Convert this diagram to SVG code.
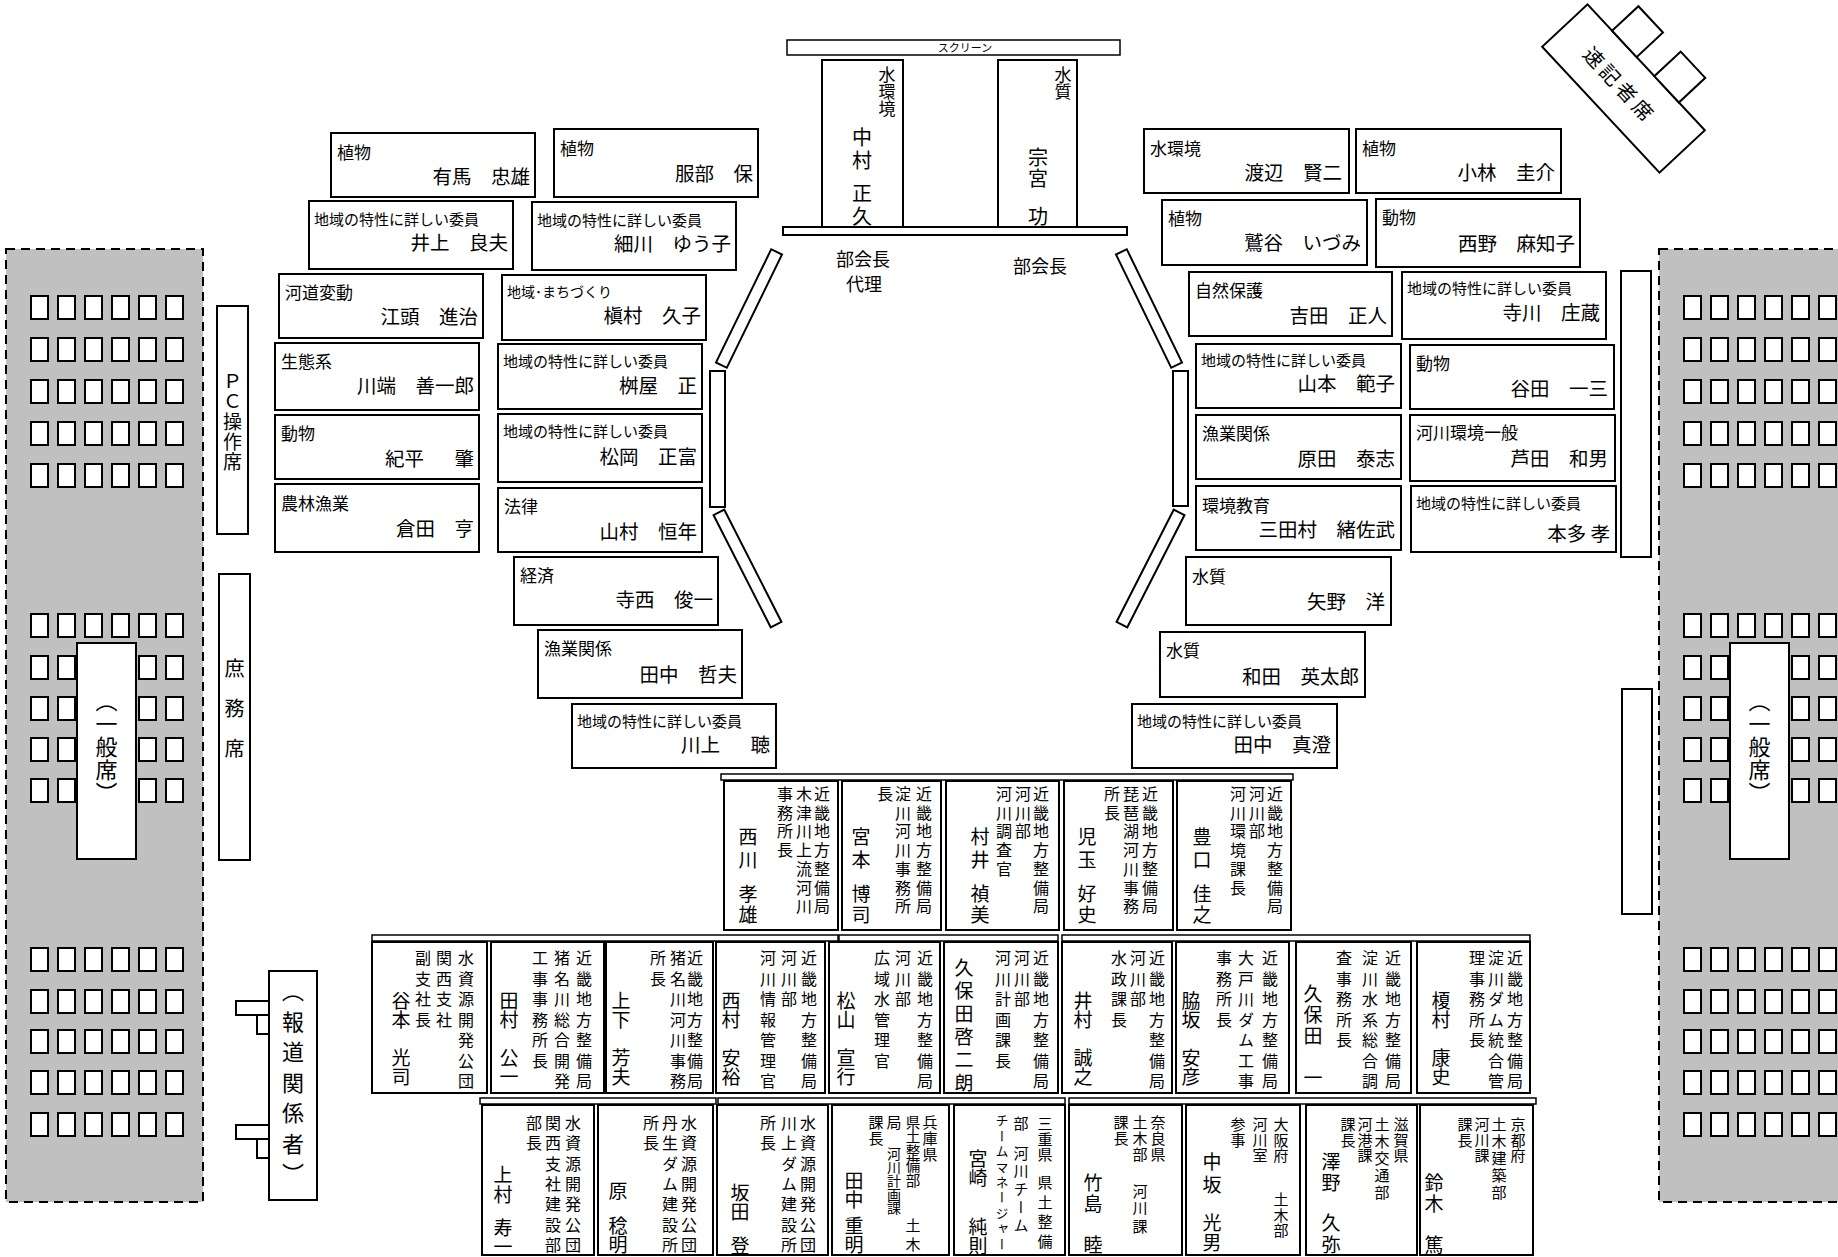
<svg xmlns="http://www.w3.org/2000/svg" width="1838" height="1257" viewBox="0 0 1838 1257">
<style>
text{font-family:"Noto Sans CJK JP","Noto Sans CJK SC",sans-serif;fill:#000}
.b{fill:#fff;stroke:#000;stroke-width:2}
.bar{fill:#fff;stroke:#000;stroke-width:1.5}
.s{fill:#fff;stroke:#000;stroke-width:2}
.g{fill:#c0c0c0;stroke:#000;stroke-width:2;stroke-dasharray:9 6}
.l{font-size:17px}
.ls{font-size:15px}
.n{font-size:19.5px;text-anchor:end}
.v{writing-mode:vertical-rl;font-size:16px}
.v15{writing-mode:vertical-rl;font-size:15px}
.vn{writing-mode:vertical-rl;font-size:19px}
.vx{writing-mode:vertical-rl}
</style>
<defs>
<g id="sr"><rect class="s" x="0" y="0" width="17" height="23"/><rect class="s" x="27" y="0" width="17" height="23"/><rect class="s" x="54" y="0" width="17" height="23"/><rect class="s" x="81" y="0" width="17" height="23"/><rect class="s" x="108" y="0" width="17" height="23"/><rect class="s" x="135" y="0" width="17" height="23"/></g>
</defs>
<rect width="1838" height="1257" fill="#fff"/>

<g id="public-left">
<rect class="g" x="6" y="249" width="197" height="953"/>
<use href="#sr" x="31" y="296"/><use href="#sr" x="31" y="338"/><use href="#sr" x="31" y="380"/><use href="#sr" x="31" y="422"/><use href="#sr" x="31" y="464"/>
<use href="#sr" x="31" y="614"/><use href="#sr" x="31" y="656"/><use href="#sr" x="31" y="697"/><use href="#sr" x="31" y="738"/><use href="#sr" x="31" y="779"/>
<use href="#sr" x="31" y="948"/><use href="#sr" x="31" y="990"/><use href="#sr" x="31" y="1030"/><use href="#sr" x="31" y="1071"/><use href="#sr" x="31" y="1113"/>
<rect class="b" x="77" y="643" width="59" height="216"/>
<text class="vx" x="106.5" y="690" font-size="22" letter-spacing="1">（一般席）</text>
</g>
<g id="public-right">
<rect class="g" x="1659" y="249" width="250" height="953"/>
<use href="#sr" x="1684" y="296"/><use href="#sr" x="1684" y="338"/><use href="#sr" x="1684" y="380"/><use href="#sr" x="1684" y="422"/><use href="#sr" x="1684" y="464"/>
<use href="#sr" x="1684" y="614"/><use href="#sr" x="1684" y="656"/><use href="#sr" x="1684" y="697"/><use href="#sr" x="1684" y="738"/><use href="#sr" x="1684" y="779"/>
<use href="#sr" x="1684" y="948"/><use href="#sr" x="1684" y="990"/><use href="#sr" x="1684" y="1030"/><use href="#sr" x="1684" y="1071"/><use href="#sr" x="1684" y="1113"/>
<rect class="b" x="1730" y="643" width="59" height="216"/>
<text class="vx" x="1759.5" y="690" font-size="22" letter-spacing="1">（一般席）</text>
</g>

<g id="pc"><rect class="b" x="217" y="306" width="31" height="228"/><text class="vx" x="232.5" y="372" font-size="19" letter-spacing="1">ＰＣ操作席</text></g>
<g id="shomu"><rect class="b" x="219" y="574" width="31" height="286"/><text class="vx" x="234.5" y="658" font-size="20" letter-spacing="20">庶務席</text></g>
<g id="press">
<rect class="b" x="236" y="1001" width="33" height="14"/><rect class="b" x="257" y="1015" width="12" height="19"/>
<rect class="b" x="236" y="1125" width="33" height="14"/><rect class="b" x="257" y="1139" width="12" height="19"/>
<rect class="b" x="269" y="971" width="48" height="229"/>
<text class="vx" x="293" y="980" font-size="22" letter-spacing="8.5">（報道関係者）</text>
</g>
<g id="right-bar1"><rect class="b" x="1621" y="271" width="30" height="286"/></g>
<g id="right-bar2"><rect class="b" x="1622" y="689" width="30" height="225"/></g>
<g id="sokki" transform="translate(1623.5,88.5) rotate(47)">
<rect class="b" x="-86" y="-31" width="172" height="62"/>
<rect class="b" x="-50" y="-67" width="36" height="36"/>
<rect class="b" x="12" y="-67" width="36" height="36"/>
<text x="-5" y="8" font-size="20" letter-spacing="4" text-anchor="middle">速記者席</text>
</g>

<g id="screen"><rect class="bar" x="787" y="40" width="333" height="15"/><text x="965" y="52" font-size="11" text-anchor="middle">スクリーン</text></g>
<g id="chair-desk"><rect class="b" x="783" y="227" width="344" height="8"/></g>
<g id="nakamura"><rect class="b" x="822" y="60" width="81" height="167"/>
<text class="vx" x="887" y="66" font-size="17">水環境</text>
<text class="vx" x="862" y="127" font-size="20" letter-spacing="3.3">中村</text>
<text class="vx" x="862" y="183" font-size="20" letter-spacing="3.7">正久</text>
<text x="863" y="266" font-size="18" text-anchor="middle">部会長</text>
<text x="864" y="291" font-size="18" text-anchor="middle">代理</text></g>
<g id="somiya"><rect class="b" x="998" y="60" width="79" height="167"/>
<text class="vx" x="1063" y="66" font-size="17">水質</text>
<text class="vx" x="1038" y="147" font-size="20" letter-spacing="1.3">宗宮</text>
<text class="vx" x="1038" y="206" font-size="20">功</text>
<text x="1040" y="273" font-size="18" text-anchor="middle">部会長</text></g>

<g id="desks">
<rect class="b" x="-6" y="-63" width="12" height="126" transform="translate(749,308.5) rotate(26)"/>
<rect class="b" x="-6" y="-63" width="12" height="126" transform="translate(747.5,568.5) rotate(-27)"/>
<rect class="b" x="-6" y="-63" width="12" height="126" transform="translate(1149,308.5) rotate(-26)"/>
<rect class="b" x="-6" y="-63" width="12" height="126" transform="translate(1150.5,568.5) rotate(27)"/>
<rect class="b" x="710" y="371" width="15" height="136"/>
<rect class="b" x="1173" y="371" width="15" height="135"/>
</g>

<g id="c01"><rect class="b" x="331" y="133" width="204" height="64"/><text class="l" x="337" y="159">植物</text><text class="n" x="530" y="184">有馬　忠雄</text></g>
<g id="c02"><rect class="b" x="554" y="129" width="204" height="68"/><text class="l" x="560" y="155">植物</text><text class="n" x="753" y="181">服部　保</text></g>
<g id="c03"><rect class="b" x="309" y="201" width="204" height="68"/><text class="ls" x="314" y="225">地域の特性に詳しい委員</text><text class="n" x="508" y="250">井上　良夫</text></g>
<g id="c04"><rect class="b" x="532" y="202" width="204" height="68"/><text class="ls" x="537" y="226">地域の特性に詳しい委員</text><text class="n" x="731" y="251">細川　ゆう子</text></g>
<g id="c05"><rect class="b" x="279" y="274" width="204" height="64"/><text class="l" x="285" y="299">河道変動</text><text class="n" x="478" y="324">江頭　進治</text></g>
<g id="c06"><rect class="b" x="502" y="275" width="204" height="65"/><text x="507" y="297" font-size="14">地域･まちづくり</text><text class="n" x="701" y="323">槇村　久子</text></g>
<g id="c07"><rect class="b" x="275" y="343" width="204" height="67"/><text class="l" x="281" y="368">生態系</text><text class="n" x="474" y="393">川端　善一郎</text></g>
<g id="c08"><rect class="b" x="498" y="344" width="204" height="65"/><text class="ls" x="503" y="367">地域の特性に詳しい委員</text><text class="n" x="697" y="393">桝屋　正</text></g>
<g id="c09"><rect class="b" x="275" y="415" width="204" height="64"/><text class="l" x="281" y="440">動物</text><text class="n" x="424" y="466">紀平</text><text class="n" x="474" y="466">肇</text></g>
<g id="c10"><rect class="b" x="498" y="414" width="204" height="68"/><text class="ls" x="503" y="437">地域の特性に詳しい委員</text><text class="n" x="697" y="464">松岡　正富</text></g>
<g id="c11"><rect class="b" x="275" y="484" width="204" height="68"/><text class="l" x="281" y="510">農林漁業</text><text class="n" x="474" y="536">倉田　亨</text></g>
<g id="c12"><rect class="b" x="498" y="488" width="204" height="64"/><text class="l" x="504" y="513">法律</text><text class="n" x="697" y="539">山村　恒年</text></g>
<g id="c13"><rect class="b" x="514" y="557" width="204" height="68"/><text class="l" x="520" y="582">経済</text><text class="n" x="713" y="607">寺西　俊一</text></g>
<g id="c14"><rect class="b" x="538" y="630" width="204" height="68"/><text class="l" x="544" y="655">漁業関係</text><text class="n" x="737" y="682">田中　哲夫</text></g>
<g id="c15"><rect class="b" x="572" y="704" width="204" height="64"/><text class="ls" x="577" y="727">地域の特性に詳しい委員</text><text class="n" x="720" y="752">川上</text><text class="n" x="770" y="752">聴</text></g>

<g id="c16"><rect class="b" x="1144" y="129" width="205" height="64"/><text class="l" x="1150" y="155">水環境</text><text class="n" x="1342" y="180">渡辺　賢二</text></g>
<g id="c17"><rect class="b" x="1356" y="129" width="205" height="64"/><text class="l" x="1362" y="155">植物</text><text class="n" x="1555" y="180">小林　圭介</text></g>
<g id="c18"><rect class="b" x="1162" y="200" width="205" height="65"/><text class="l" x="1168" y="225">植物</text><text class="n" x="1361" y="250">鷲谷　いづみ</text></g>
<g id="c19"><rect class="b" x="1376" y="199" width="204" height="68"/><text class="l" x="1382" y="224">動物</text><text class="n" x="1575" y="251">西野　麻知子</text></g>
<g id="c20"><rect class="b" x="1189" y="272" width="203" height="64"/><text class="l" x="1195" y="297">自然保護</text><text class="n" x="1387" y="323">吉田　正人</text></g>
<g id="c21"><rect class="b" x="1402" y="272" width="204" height="67"/><text class="ls" x="1407" y="294">地域の特性に詳しい委員</text><text class="n" x="1600" y="320">寺川　庄蔵</text></g>
<g id="c22"><rect class="b" x="1196" y="344" width="205" height="64"/><text class="ls" x="1201" y="366">地域の特性に詳しい委員</text><text class="n" x="1395" y="391">山本　範子</text></g>
<g id="c23"><rect class="b" x="1410" y="345" width="204" height="64"/><text class="l" x="1416" y="370">動物</text><text class="n" x="1608" y="396">谷田　一三</text></g>
<g id="c24"><rect class="b" x="1196" y="415" width="205" height="64"/><text class="l" x="1202" y="440">漁業関係</text><text class="n" x="1395" y="466">原田　泰志</text></g>
<g id="c25"><rect class="b" x="1410" y="415" width="205" height="66"/><text class="l" x="1416" y="439">河川環境一般</text><text class="n" x="1608" y="466">芦田　和男</text></g>
<g id="c26"><rect class="b" x="1196" y="486" width="205" height="64"/><text class="l" x="1202" y="512">環境教育</text><text class="n" x="1395" y="537">三田村　緒佐武</text></g>
<g id="c27"><rect class="b" x="1411" y="486" width="205" height="66"/><text class="ls" x="1416" y="509">地域の特性に詳しい委員</text><text class="n" x="1610" y="541">本多 孝</text></g>
<g id="c28"><rect class="b" x="1186" y="557" width="205" height="68"/><text class="l" x="1192" y="583">水質</text><text class="n" x="1385" y="609">矢野　洋</text></g>
<g id="c29"><rect class="b" x="1160" y="632" width="205" height="65"/><text class="l" x="1166" y="657">水質</text><text class="n" x="1359" y="684">和田　英太郎</text></g>
<g id="c30"><rect class="b" x="1132" y="704" width="205" height="64"/><text class="ls" x="1137" y="727">地域の特性に詳しい委員</text><text class="n" x="1331" y="752">田中　真澄</text></g>

<g id="row-bars">
<rect class="bar" x="721" y="774" width="572" height="6"/>
<rect class="bar" x="372" y="935" width="466" height="6"/>
<rect class="bar" x="839" y="935" width="219" height="6"/>
<rect class="bar" x="1062" y="935" width="468" height="6"/>
<rect class="bar" x="480" y="1098" width="236" height="6"/>
<rect class="bar" x="718" y="1098" width="347" height="6"/>
<rect class="bar" x="1069" y="1098" width="467" height="6"/>
</g>

<g id="o1-1"><rect class="b" x="724" y="781" width="114" height="149"/>
<text class="v" x="822" y="786" letter-spacing="2.7">近畿地方整備局</text><text class="v" x="804" y="786" letter-spacing="2.7">木津川上流河川</text><text class="v" x="785" y="786" letter-spacing="2.7">事務所長</text>
<text class="vn" x="748" y="827" letter-spacing="4">西川</text><text class="vn" x="748" y="884" letter-spacing="2">孝雄</text></g>
<g id="o1-2"><rect class="b" x="842" y="781" width="99" height="149"/>
<text class="v" x="924" y="786" letter-spacing="2.7">近畿地方整備局</text><text class="v" x="903" y="786" letter-spacing="2.7">淀川河川事務所</text><text class="v" x="885" y="786" letter-spacing="2.7">長</text>
<text class="vn" x="861" y="827" letter-spacing="4">宮本</text><text class="vn" x="861" y="884" letter-spacing="2">博司</text></g>
<g id="o1-3"><rect class="b" x="946" y="781" width="113" height="149"/>
<text class="v" x="1041" y="786" letter-spacing="2.7">近畿地方整備局</text><text class="v" x="1023" y="786" letter-spacing="2.7">河川部</text><text class="v" x="1004" y="786" letter-spacing="2.7">河川調査官</text>
<text class="vn" x="980" y="827" letter-spacing="4">村井</text><text class="vn" x="980" y="884" letter-spacing="2">禎美</text></g>
<g id="o1-4"><rect class="b" x="1064" y="781" width="109" height="149"/>
<text class="v" x="1150" y="786" letter-spacing="2.7">近畿地方整備局</text><text class="v" x="1131" y="786" letter-spacing="2.7">琵琶湖河川事務</text><text class="v" x="1112" y="786" letter-spacing="2.7">所長</text>
<text class="vn" x="1087" y="827" letter-spacing="4">児玉</text><text class="vn" x="1087" y="884" letter-spacing="2">好史</text></g>
<g id="o1-5"><rect class="b" x="1177" y="781" width="114" height="149"/>
<text class="v" x="1275" y="786" letter-spacing="2.7">近畿地方整備局</text><text class="v" x="1257" y="786" letter-spacing="2.7">河川部</text><text class="v" x="1238" y="786" letter-spacing="2.7">河川環境課長</text>
<text class="vn" x="1202" y="827" letter-spacing="4">豊口</text><text class="vn" x="1202" y="884" letter-spacing="2">佳之</text></g>

<g id="o2-1"><rect class="b" x="372" y="942" width="115" height="151"/>
<text class="v" x="466" y="950" letter-spacing="4.5">水資源開発公団</text><text class="v" x="444" y="950" letter-spacing="4.5">関西支社</text><text class="v" x="423" y="950" letter-spacing="4.5">副支社長</text>
<text class="vn" x="401" y="991" letter-spacing="0.5">谷本</text><text class="vn" x="401" y="1048" letter-spacing="0.5">光司</text></g>
<g id="o2-2"><rect class="b" x="491" y="942" width="113" height="151"/>
<text class="v" x="584" y="950" letter-spacing="4.5">近畿地方整備局</text><text class="v" x="562" y="950" letter-spacing="4.5">猪名川総合開発</text><text class="v" x="540" y="950" letter-spacing="4.5">工事事務所長</text>
<text class="vn" x="509" y="991" letter-spacing="0.5">田村</text><text class="vn" x="509" y="1048" letter-spacing="0.5">公一</text></g>
<g id="o2-3"><rect class="b" x="606" y="942" width="107" height="151"/>
<text class="v" x="695" y="950" letter-spacing="4.5">近畿地方整備局</text><text class="v" x="678" y="950" letter-spacing="4.5">猪名川河川事務</text><text class="v" x="658" y="950" letter-spacing="4.5">所長</text>
<text class="vn" x="621" y="991" letter-spacing="0.5">上下</text><text class="vn" x="621" y="1048" letter-spacing="0.5">芳夫</text></g>
<g id="o2-4"><rect class="b" x="716" y="942" width="109" height="151"/>
<text class="v" x="809" y="950" letter-spacing="4.5">近畿地方整備局</text><text class="v" x="789" y="950" letter-spacing="4.5">河川部</text><text class="v" x="768" y="950" letter-spacing="4.5">河川情報管理官</text>
<text class="vn" x="731" y="991" letter-spacing="0.5">西村</text><text class="vn" x="731" y="1048" letter-spacing="0.5">安裕</text></g>
<g id="o2-5"><rect class="b" x="829" y="942" width="111" height="151"/>
<text class="v" x="925" y="950" letter-spacing="4.5">近畿地方整備局</text><text class="v" x="903" y="950" letter-spacing="4.5">河川部</text><text class="v" x="882" y="950" letter-spacing="4.5">広域水管理官</text>
<text class="vn" x="846" y="991" letter-spacing="0.5">松山</text><text class="vn" x="846" y="1048" letter-spacing="0.5">宣行</text></g>
<g id="o2-6"><rect class="b" x="944" y="942" width="114" height="151"/>
<text class="v" x="1041" y="950" letter-spacing="4.5">近畿地方整備局</text><text class="v" x="1022" y="950" letter-spacing="4.5">河川部</text><text class="v" x="1003" y="950" letter-spacing="4.5">河川計画課長</text>
<text class="vn" x="964" y="958" letter-spacing="4">久保田啓二朗</text></g>
<g id="o2-7"><rect class="b" x="1062" y="942" width="110" height="151"/>
<text class="v" x="1157" y="950" letter-spacing="4.5">近畿地方整備局</text><text class="v" x="1138" y="950" letter-spacing="4.5">河川部</text><text class="v" x="1119" y="950" letter-spacing="4.5">水政課長</text>
<text class="vn" x="1083" y="991" letter-spacing="0.5">井村</text><text class="vn" x="1083" y="1048" letter-spacing="0.5">誠之</text></g>
<g id="o2-8"><rect class="b" x="1176" y="942" width="113" height="151"/>
<text class="v" x="1270" y="950" letter-spacing="4.5">近畿地方整備局</text><text class="v" x="1246" y="950" letter-spacing="4.5">大戸川ダム工事</text><text class="v" x="1224" y="950" letter-spacing="4.5">事務所長</text>
<text class="vn" x="1191" y="991" letter-spacing="0.5">脇坂</text><text class="vn" x="1191" y="1048" letter-spacing="0.5">安彦</text></g>
<g id="o2-9"><rect class="b" x="1296" y="942" width="115" height="151"/>
<text class="v" x="1393" y="950" letter-spacing="4.5">近畿地方整備局</text><text class="v" x="1370" y="950" letter-spacing="4.5">淀川水系総合調</text><text class="v" x="1344" y="950" letter-spacing="4.5">査事務所長</text>
<text class="vn" x="1313" y="984" letter-spacing="2">久保田</text><text class="vn" x="1313" y="1068">一</text></g>
<g id="o2-10"><rect class="b" x="1417" y="942" width="113" height="151"/>
<text class="v" x="1515" y="950" letter-spacing="4.5">近畿地方整備局</text><text class="v" x="1496" y="950" letter-spacing="4.5">淀川ダム統合管</text><text class="v" x="1477" y="950" letter-spacing="4.5">理事務所長</text>
<text class="vn" x="1441" y="991" letter-spacing="0.5">榎村</text><text class="vn" x="1441" y="1048" letter-spacing="0.5">康史</text></g>

<g id="o3-1"><rect class="b" x="482" y="1105" width="112" height="150"/>
<text class="v" x="573" y="1115" letter-spacing="4.3">水資源開発公団</text><text class="v" x="553" y="1115" letter-spacing="4.3">関西支社建設部</text><text class="v" x="534" y="1115" letter-spacing="4.3">部長</text>
<text class="vn" x="503" y="1165" letter-spacing="1">上村</text><text class="vn" x="503" y="1218">寿一</text></g>
<g id="o3-2"><rect class="b" x="598" y="1105" width="115" height="150"/>
<text class="v" x="689" y="1115" letter-spacing="4.3">水資源開発公団</text><text class="v" x="670" y="1115" letter-spacing="4.3">丹生ダム建設所</text><text class="v" x="651" y="1115" letter-spacing="4.3">所長</text>
<text class="vn" x="618" y="1181">原</text><text class="vn" x="618" y="1216">稔明</text></g>
<g id="o3-3"><rect class="b" x="717" y="1105" width="111" height="150"/>
<text class="v" x="808" y="1115" letter-spacing="4.3">水資源開発公団</text><text class="v" x="789" y="1115" letter-spacing="4.3">川上ダム建設所</text><text class="v" x="768" y="1115" letter-spacing="4.3">所長</text>
<text class="vn" x="740" y="1183">坂田</text><text class="vn" x="740" y="1236">登</text></g>
<g id="o3-4"><rect class="b" x="832" y="1105" width="117" height="150"/>
<text class="v15" x="930" y="1115" letter-spacing="1">兵庫県</text>
<text class="vx" x="913" y="1115" font-size="14.5">県土整備部</text><text class="v15" x="913" y="1218" letter-spacing="4">土木</text>
<text class="v15" x="894" y="1115">局</text><text class="vx" x="894" y="1147" font-size="14" letter-spacing="-0.5">河川計画課</text>
<text class="v15" x="876" y="1115" letter-spacing="1">課長</text>
<text class="vn" x="854" y="1171">田中</text><text class="vn" x="854" y="1216">重明</text></g>
<g id="o3-5"><rect class="b" x="954" y="1105" width="111" height="150"/>
<text class="v15" x="1045" y="1116" letter-spacing="0.5">三重県</text><text class="v15" x="1045" y="1175" letter-spacing="4.5">県土整備</text>
<text class="v15" x="1021" y="1116">部</text><text class="v15" x="1021" y="1146" letter-spacing="3">河川チーム</text>
<text class="vx" x="1002" y="1114" font-size="13" letter-spacing="2.4">チームマネージャー</text>
<text class="vn" x="978" y="1149">宮崎</text><text class="vn" x="978" y="1217" letter-spacing="0.5">純則</text></g>
<g id="o3-6"><rect class="b" x="1069" y="1105" width="113" height="150"/>
<text class="v15" x="1158" y="1115" letter-spacing="1">奈良県</text>
<text class="v15" x="1140" y="1115" letter-spacing="1">土木部</text><text class="v15" x="1140" y="1184" letter-spacing="2.2">河川課</text>
<text class="v15" x="1121" y="1115" letter-spacing="1">課長</text>
<text class="vn" x="1093" y="1173" letter-spacing="2">竹島</text><text class="vn" x="1093" y="1235">睦</text></g>
<g id="o3-7"><rect class="b" x="1186" y="1105" width="114" height="150"/>
<text class="v15" x="1281" y="1117" letter-spacing="0.5">大阪府</text><text class="v15" x="1281" y="1192" letter-spacing="0.5">土木部</text>
<text class="v15" x="1260" y="1117" letter-spacing="0.5">河川室</text>
<text class="v15" x="1238" y="1117" letter-spacing="0.5">参事</text>
<text class="vn" x="1212" y="1152" letter-spacing="4">中坂</text><text class="vn" x="1212" y="1213" letter-spacing="1">光男</text></g>
<g id="o3-8"><rect class="b" x="1306" y="1105" width="111" height="150"/>
<text class="v15" x="1401" y="1117" letter-spacing="0.5">滋賀県</text>
<text class="v15" x="1382" y="1117" letter-spacing="2">土木交通部</text>
<text class="v15" x="1365" y="1117" letter-spacing="0.5">河港課</text>
<text class="v15" x="1348" y="1117" letter-spacing="0.5">課長</text>
<text class="vn" x="1331" y="1152" letter-spacing="2">澤野</text><text class="vn" x="1331" y="1213" letter-spacing="3">久弥</text></g>
<g id="o3-9"><rect class="b" x="1420" y="1105" width="113" height="150"/>
<text class="v15" x="1518" y="1117" letter-spacing="0.5">京都府</text>
<text class="v15" x="1499" y="1117" letter-spacing="2">土木建築部</text>
<text class="v15" x="1482" y="1117" letter-spacing="0.5">河川課</text>
<text class="v15" x="1465" y="1117" letter-spacing="0.5">課長</text>
<text class="vn" x="1434" y="1173" letter-spacing="2">鈴木</text><text class="vn" x="1434" y="1235">篤</text></g>

<g id="connectors"></g>
</svg>
